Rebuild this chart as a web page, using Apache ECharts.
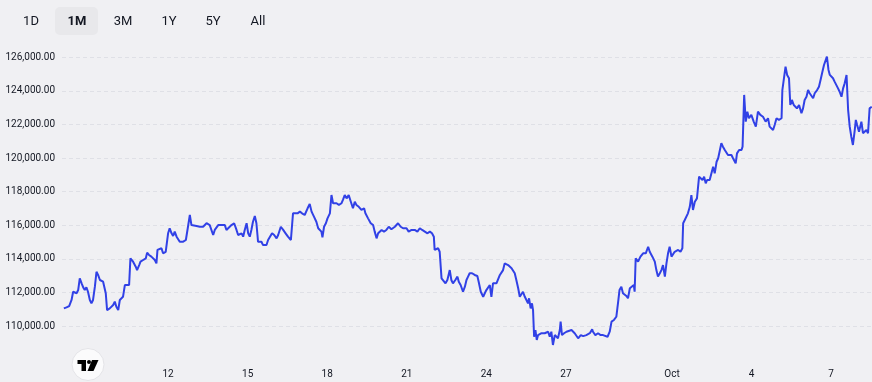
<!DOCTYPE html>
<html><head><meta charset="utf-8">
<script src="https://cdn.jsdelivr.net/npm/echarts@6/dist/echarts.min.js"></script>
<style>html,body{margin:0;padding:0;background:#f0f0f3;}#c{width:872px;height:382px;}</style>
</head><body><div id="c"></div><script>
// Range buttons
const rangeLabels = ['1D', '1M', '3M', '1Y', '5Y', 'All'];
const activeRange = '1M';
// X tick positions (day number counted from Sep 0; Oct 1 = 31)
const xTickDays = [12, 15, 18, 21, 24, 27, 31, 34, 37];
// Time of each point, as day-of-September (Oct d = 30 + d)
const dayOfMonth = [
 8.07,8.17,8.27,8.36,8.42,8.48,8.55,8.61,8.67,8.74,
 8.80,8.86,8.92,8.98,9.05,9.11,9.17,9.24,9.30,9.36,
 9.43,9.49,9.55,9.61,9.65,9.70,9.80,9.93,9.99,10.05,
 10.12,10.18,10.24,10.30,10.37,10.43,10.53,10.58,10.62,10.68,
 10.78,10.83,10.91,10.96,11.06,11.16,11.21,11.28,11.37,11.43,
 11.50,11.56,11.60,11.66,11.75,11.81,11.91,12.00,12.06,12.13,
 12.19,12.25,12.32,12.44,12.57,12.67,12.75,12.82,12.88,12.94,
 13.07,13.20,13.26,13.32,13.45,13.57,13.64,13.70,13.76,13.89,
 14.01,14.14,14.20,14.26,14.39,14.49,14.58,14.64,14.70,14.77,
 14.83,14.89,14.96,15.02,15.08,15.14,15.20,15.27,15.33,15.37,
 15.39,15.52,15.58,15.65,15.71,15.77,15.83,15.92,16.00,16.09,
 16.15,16.25,16.34,16.43,16.52,16.63,16.71,16.78,16.88,16.97,
 17.05,17.15,17.26,17.34,17.41,17.50,17.59,17.66,17.72,17.78,
 17.82,17.88,17.95,18.01,18.10,18.16,18.22,18.28,18.35,18.44,
 18.54,18.60,18.66,18.73,18.81,18.89,18.97,19.04,19.10,19.19,
 19.29,19.39,19.44,19.54,19.64,19.73,19.79,19.86,19.92,20.05,
 20.14,20.23,20.32,20.42,20.55,20.67,20.77,20.86,20.99,21.07,
 21.18,21.30,21.40,21.49,21.58,21.68,21.78,21.87,21.95,22.02,
 22.05,22.12,22.18,22.24,22.31,22.37,22.46,22.53,22.62,22.68,
 22.74,22.83,22.91,22.96,23.03,23.12,23.19,23.25,23.31,23.37,
 23.46,23.56,23.66,23.71,23.79,23.88,23.94,24.00,24.06,24.13,
 24.19,24.25,24.32,24.38,24.44,24.51,24.57,24.63,24.69,24.76,
 24.82,24.88,24.95,25.01,25.07,25.13,25.20,25.26,25.32,25.38,
 25.45,25.51,25.57,25.61,25.67,25.72,25.76,25.80,25.85,25.90,
 25.95,26.01,26.08,26.14,26.20,26.27,26.33,26.39,26.45,26.51,
 26.58,26.64,26.70,26.77,26.80,26.85,26.93,27.02,27.08,27.21,
 27.27,27.33,27.40,27.46,27.56,27.65,27.77,27.90,27.99,28.02,
 28.11,28.21,28.31,28.40,28.46,28.57,28.65,28.72,28.81,28.90,
 28.97,29.02,29.09,29.15,29.28,29.34,29.41,29.47,29.56,29.59,
 29.63,29.72,29.81,29.91,30.01,30.10,30.16,30.26,30.35,30.41,
 30.47,30.54,30.60,30.66,30.73,30.79,30.85,30.91,30.98,31.04,
 31.10,31.17,31.23,31.32,31.39,31.42,31.48,31.54,31.60,31.67,
 31.73,31.79,31.86,31.94,32.02,32.07,32.15,32.21,32.27,32.32,
 32.42,32.49,32.55,32.61,32.68,32.74,32.80,32.86,32.92,32.99,
 33.05,33.11,33.18,33.24,33.30,33.37,33.40,33.45,33.53,33.62,
 33.66,33.72,33.78,33.84,33.90,33.99,34.08,34.16,34.24,34.33,
 34.43,34.53,34.62,34.68,34.75,34.81,34.87,34.94,35.03,35.13,
 35.16,35.22,35.28,35.34,35.41,35.46,35.52,35.59,35.65,35.71,
 35.79,35.88,35.94,36.00,36.07,36.13,36.19,36.26,36.32,36.38,
 36.47,36.54,36.60,36.67,36.73,36.80,36.84,36.90,36.95,37.01,
 37.07,37.13,37.20,37.26,37.32,37.39,37.45,37.51,37.58,37.64,
 37.70,37.76,37.82,37.89,37.93,37.98,38.05,38.14,38.20,38.27,
 38.33,38.39,38.45,38.53
];
const price = [
 111050,111110,111190,111550,112040,112140,111950,112140,112840,112540,
 112300,112140,112300,112040,111550,111350,111550,112340,113230,113040,
 112740,112840,112640,112740,111950,110950,111050,111250,111450,111150,
 110950,111550,111650,111740,112440,112340,112440,114030,114130,113830,
 113530,113330,113630,113830,113930,114030,114370,114230,114130,114130,
 113930,113730,114530,114420,114630,114330,114420,115520,115820,115520,
 115360,115620,115320,115020,115020,115120,115910,116610,116010,116120,
 115960,115910,115820,115910,116120,116010,115910,115420,115720,116010,
 116010,116010,115720,115820,116010,116120,115720,115420,115320,115520,
 115320,115720,116120,115520,115320,115720,116210,116550,116120,115420,
 115020,115020,114820,114720,114820,115120,115220,115520,115420,115220,
 115420,115910,115720,115520,115320,115120,116710,116810,116710,116810,
 116710,116610,117010,117270,116810,116510,116210,115820,115720,115620,
 115280,115910,116120,116410,116710,117800,117310,117310,117310,117210,
 117310,117540,117800,117600,117800,117400,117010,117400,117210,117100,
 116910,117010,116710,116410,116120,116010,115620,115220,115520,115720,
 115620,115720,115910,115760,115910,116120,115910,115820,115820,115620,
 115720,115720,115620,115820,115720,115620,115520,115620,115520,115320,
 114530,114420,114630,114420,112840,112740,112540,112740,113330,112740,
 112540,112740,112940,112640,112440,112040,112340,112740,112940,113140,
 113140,113040,112980,112640,112040,111740,111950,112140,112040,112440,
 111740,112540,112640,112540,112640,113040,113140,113330,113730,113770,
 113630,113530,113440,113290,113140,112740,112250,111740,111850,112040,
 111740,111550,111350,111650,111050,111350,110950,109360,109760,109170,
 109460,109360,109570,109660,109570,109460,109660,109360,109660,108870,
 109460,109570,109270,109760,110260,109460,109570,109660,109570,109760,
 109660,109570,109460,109270,109460,109400,109460,109570,109800,109660,
 109460,109570,109460,109460,109570,109360,109660,110260,110360,110550,
 111450,112140,112340,111950,111790,111650,112250,112140,112440,112040,
 114030,113830,114130,114330,114330,114720,114420,114130,113830,113330,
 112940,113140,113330,113630,112940,113730,114330,114720,114130,114030,
 114420,114330,114530,114420,114630,116120,116310,116410,116710,117100,
 117800,116910,117400,117600,118890,118990,118690,118890,118500,118690,
 118690,118800,119490,119090,119780,119990,120080,120880,120680,120480,
 120580,120180,120280,120180,119990,119890,119690,120280,120480,120480,
 120680,123760,122170,122760,122370,122570,122170,121870,122760,122570,
 122460,122170,122370,121870,121770,121670,121970,122370,122270,122370,
 124050,124750,125440,124950,124750,123160,123460,123160,123260,122960,
 123160,122670,122960,123460,123650,124050,123860,123950,123560,123860,
 124050,124250,124650,125140,125540,125640,126040,125250,124950,125050,
 124750,124550,124450,124150,123950,123650,124150,124450,124950,122860,
 121870,121270,120780,121670,122270,121970,121570,122170,121480,121480,
 121670,121480,122960,123060
];

const FONT = 'Roboto, "Liberation Sans", Arial, sans-serif';
const TEXT = '#131722';
const btnCenters = [31, 77, 123, 169, 213, 258];

const chart = echarts.init(document.getElementById('c'), null, {renderer: 'canvas'});
const graphics = [
  {type: 'rect', shape: {x: 55, y: 7, width: 43, height: 28, r: 5}, style: {fill: '#e8e8eb'}, z: 10},
];
rangeLabels.forEach((t, i) => {
  graphics.push({type: 'text', x: btnCenters[i], y: 21.5, z: 11,
    style: {text: t, fill: TEXT, fontSize: 13, fontFamily: FONT,
      fontWeight: t === activeRange ? 'bold' : 'normal', align: 'center', verticalAlign: 'middle'}});
});
// TradingView-like badge
graphics.push({type: 'circle', shape: {cx: 88, cy: 364.5, r: 16}, style: {fill: '#fbfbfc', stroke: '#e4e4e8', lineWidth: 1}, z: 10});
graphics.push({type: 'rect', shape: {x: 77.5, y: 360, width: 8.5, height: 4}, style: {fill: '#000'}, z: 11});
graphics.push({type: 'rect', shape: {x: 81.5, y: 360, width: 4.5, height: 11}, style: {fill: '#000'}, z: 11});
graphics.push({type: 'circle', shape: {cx: 89, cy: 362}, style: {fill: '#000'}, z: 11});
graphics.push({type: 'polygon', shape: {points: [[92, 360], [98.5, 360], [93.5, 371], [87.5, 371]]}, style: {fill: '#000'}, z: 11});
graphics[graphics.length - 2].shape.r = 2;

chart.setOption({
  animation: false,
  backgroundColor: '#f0f0f3',
  grid: {left: 62, right: 0, top: 40.5, bottom: 22.4, containLabel: false},
  xAxis: {
    type: 'value', min: 8, max: 38.54,
    axisLine: {show: false}, axisTick: {show: false}, splitLine: {show: false},
    axisLabel: {
      customValues: xTickDays, margin: 10, color: TEXT, fontSize: 10, fontFamily: FONT,
      formatter: v => v === 31 ? 'Oct' : String(v > 31 ? v - 30 : v)
    }
  },
  yAxis: {
    type: 'value', min: 108000, max: 127000, interval: 2000, position: 'left',
    axisLine: {show: false}, axisTick: {show: false},
    splitLine: {show: true, showMinLine: false, showMaxLine: false,
      lineStyle: {type: [4, 3], color: '#dfe0e6', width: 1}},
    axisLabel: {
      showMinLabel: false, showMaxLabel: false, margin: 7, color: TEXT, fontSize: 10, fontFamily: FONT,
      formatter: v => v.toLocaleString('en-US', {minimumFractionDigits: 2, maximumFractionDigits: 2})
    }
  },
  series: [{
    type: 'line', showSymbol: false, smooth: false,
    data: dayOfMonth.map((d, i) => [d, price[i]]),
    lineStyle: {color: '#3141e6', width: 2},
    itemStyle: {color: '#3141e6'}
  }],
  graphic: graphics
});
</script></body></html>
